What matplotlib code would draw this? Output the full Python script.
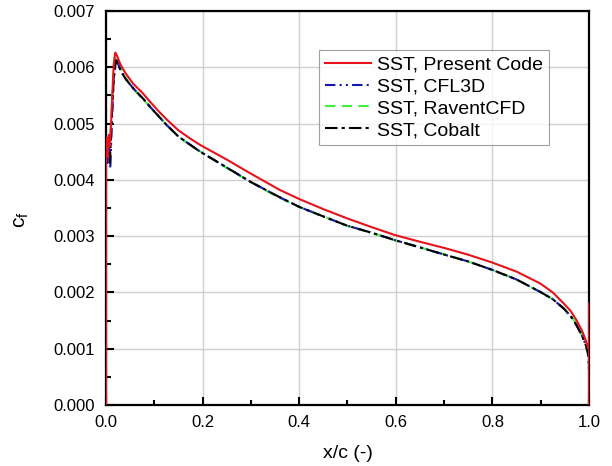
import matplotlib
matplotlib.use("Agg")
import matplotlib.pyplot as plt
from matplotlib.ticker import MultipleLocator, FormatStrFormatter

plt.rcParams['font.family'] = ['Liberation Sans', 'DejaVu Sans']

# Present code (red)
x_red = [0.0, 0.0, 0.002, 0.004, 0.006, 0.008, 0.010, 0.013, 0.016, 0.019, 0.022, 0.03, 0.04,
         0.056, 0.075, 0.091, 0.11, 0.126, 0.15, 0.175, 0.195, 0.25, 0.298, 0.36, 0.40, 0.45,
         0.498, 0.55, 0.598, 0.65, 0.705, 0.75, 0.80, 0.85, 0.899, 0.925, 0.947, 0.962, 0.974,
         0.985, 0.992, 0.997, 1.0, 1.0, 1.0]
cf_red = [0.0, 4.6, 4.75, 4.4, 4.8, 4.6, 4.9, 5.5, 6.05, 6.26, 6.22, 6.05, 5.9,
          5.71, 5.55, 5.39, 5.21, 5.07, 4.88, 4.73, 4.62, 4.36, 4.12, 3.82, 3.66, 3.48,
          3.32, 3.16, 3.02, 2.90, 2.78, 2.67, 2.53, 2.37, 2.16, 2.00, 1.81, 1.67, 1.51,
          1.33, 1.18, 1.05, 0.98, 1.80, 0.0]

# CFL3D (blue)
x_cfl = [0.0, 0.0, 0.003, 0.006, 0.009, 0.012, 0.016, 0.021, 0.03, 0.04, 0.056, 0.075, 0.091,
         0.11, 0.126, 0.15, 0.175, 0.195, 0.25, 0.298, 0.36, 0.40, 0.45, 0.498, 0.55, 0.598,
         0.65, 0.705, 0.75, 0.80, 0.85, 0.899, 0.925, 0.947, 0.962, 0.974, 0.985, 0.992,
         0.997, 0.999, 1.0, 1.0, 1.0]
cf_cfl = [0.0, 4.8, 4.3, 4.7, 4.2, 5.0, 5.8, 6.15, 5.95, 5.8, 5.63, 5.46, 5.30,
          5.12, 4.97, 4.77, 4.62, 4.50, 4.22, 3.97, 3.69, 3.52, 3.35, 3.19, 3.06, 2.93,
          2.80, 2.66, 2.55, 2.40, 2.23, 2.01, 1.88, 1.72, 1.58, 1.42, 1.24, 1.10,
          0.95, 0.80, 0.60, 0.95, 0.70]

# RaventCFD (green)
x_rav = [0.0, 0.0, 0.004, 0.008, 0.012, 0.015, 0.019, 0.025, 0.035, 0.05, 0.07, 0.09, 0.11,
         0.13, 0.15, 0.175, 0.2, 0.25, 0.3, 0.35, 0.4, 0.45, 0.5, 0.55, 0.6, 0.65, 0.7,
         0.75, 0.8, 0.85, 0.9, 0.925, 0.95, 0.965, 0.975, 0.985, 0.992, 0.997, 1.0]
cf_rav = [0.0, 4.6, 4.5, 4.6, 5.3, 5.9, 6.2, 6.1, 5.9, 5.68, 5.49, 5.31, 5.12,
          4.94, 4.77, 4.61, 4.48, 4.21, 3.96, 3.72, 3.52, 3.35, 3.18, 3.06, 2.92, 2.80, 2.68,
          2.55, 2.40, 2.23, 2.00, 1.88, 1.70, 1.56, 1.43, 1.25, 1.10, 0.96, 0.85]

# Cobalt (black)
x_cob = [0.0, 0.0, 0.004, 0.008, 0.012, 0.016, 0.021, 0.03, 0.04, 0.056, 0.075, 0.091,
         0.11, 0.126, 0.15, 0.175, 0.195, 0.25, 0.298, 0.36, 0.40, 0.45, 0.498, 0.55, 0.598,
         0.65, 0.705, 0.75, 0.80, 0.85, 0.899, 0.925, 0.947, 0.962, 0.974, 0.985, 0.992,
         0.997, 1.0]
cf_cob = [0.0, 4.5, 4.4, 4.3, 5.1, 5.8, 6.13, 5.95, 5.8, 5.63, 5.46, 5.30,
          5.12, 4.97, 4.77, 4.62, 4.50, 4.22, 3.97, 3.69, 3.52, 3.35, 3.19, 3.06, 2.93,
          2.80, 2.66, 2.55, 2.40, 2.23, 2.01, 1.88, 1.72, 1.58, 1.42, 1.24, 1.10,
          0.96, 0.85]

labels = ['SST, Present Code', 'SST, CFL3D', 'SST, RaventCFD', 'SST, Cobalt']

def sc(v):
    return [a * 1e-3 for a in v]

fig = plt.figure(figsize=(6.12, 4.66), dpi=100)
ax = fig.add_axes([0.1732, 0.1309, 0.7892, 0.8455])

ax.plot(x_red, sc(cf_red), color='#e8121b', lw=1.5, ls='-', label=labels[0], zorder=5)
ax.plot(x_cfl, sc(cf_cfl), color='#1515b0', lw=1.5, ls=(0, (5, 2, 1, 2, 1, 2)), label=labels[1], zorder=4)
ax.plot(x_rav, sc(cf_rav), color='#3ff03f', lw=1.5, ls=(0, (5, 3)), label=labels[2], zorder=3)
ax.plot(x_cob, sc(cf_cob), color='#000000', lw=1.5, ls=(0, (6, 2, 1.5, 2)), label=labels[3], zorder=4.5)

ax.set_xlim(0, 1.0)
ax.set_ylim(0, 0.007)
ax.xaxis.set_major_locator(MultipleLocator(0.2))
ax.xaxis.set_minor_locator(MultipleLocator(0.1))
ax.yaxis.set_major_locator(MultipleLocator(0.001))
ax.yaxis.set_minor_locator(MultipleLocator(0.0005))
ax.xaxis.set_major_formatter(FormatStrFormatter('%.1f'))
ax.yaxis.set_major_formatter(FormatStrFormatter('%.3f'))
ax.tick_params(which='major', direction='in', length=6, width=1.5, labelsize=12, top=False, right=False)
ax.tick_params(axis='y', which='major', pad=8)
ax.tick_params(axis='x', which='major', pad=7)
ax.tick_params(which='minor', direction='in', length=3.5, width=1.5, top=False, right=False)
ax.grid(True, which='major', color='#d0d0d0', lw=1.0)
ax.set_axisbelow(True)
for s in ax.spines.values():
    s.set_linewidth(1.6)

ax.set_xlabel('x/c (-)', fontsize=14, labelpad=11)
ax.set_ylabel(r'c$_\mathregular{f}$', fontsize=15)
ax.yaxis.set_label_coords(-0.155, 0.47)

leg = ax.legend(loc='upper left', bbox_to_anchor=(0.441, 0.901), borderaxespad=0,
                fontsize=14, handlelength=2.4, handletextpad=0.3, labelspacing=0.22,
                frameon=True, fancybox=False, borderpad=0.3)
leg.get_frame().set_edgecolor('#888888')
leg.get_frame().set_linewidth(0.8)

fig.savefig('out.png', dpi=100)
